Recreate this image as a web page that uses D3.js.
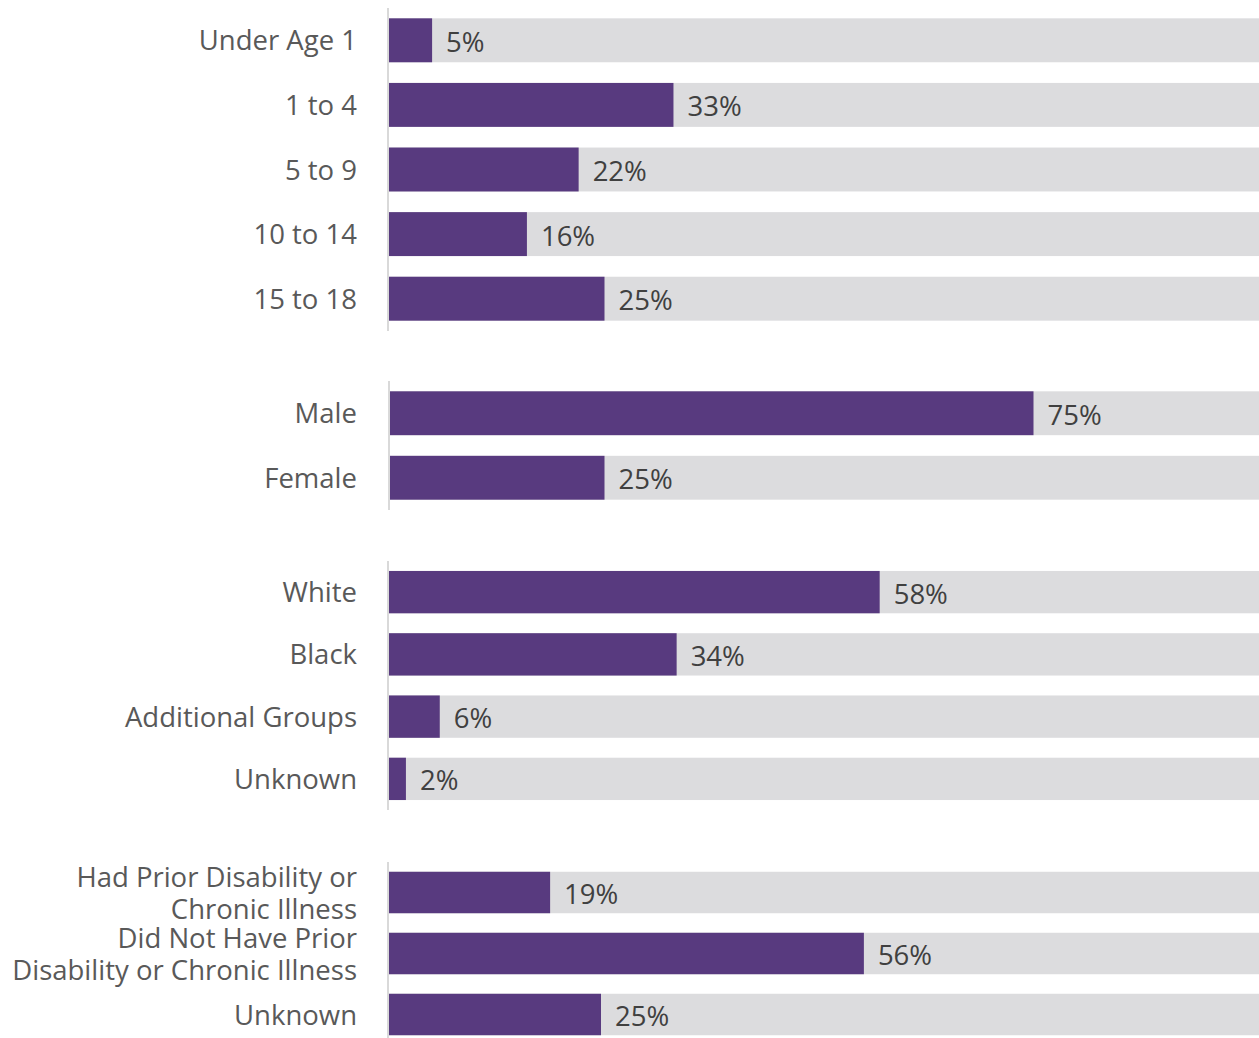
<!DOCTYPE html>
<html>
<head>
<meta charset="utf-8">
<script src="https://cdn.jsdelivr.net/npm/d3@7"></script>
<style>
  html, body { margin: 0; padding: 0; background: #fff; }
  svg { display: block; }
  text { font-family: "Open Sans", Lato, sans-serif; }
</style>
</head>
<body>
<svg id="chart" width="1259" height="1038"></svg>
<script>
// Age group
const ageCategories = ["Under Age 1", "1 to 4", "5 to 9", "10 to 14", "15 to 18"];
const ageValues = [5, 33, 22, 16, 25];

// Sex
const sexCategories = ["Male", "Female"];
const sexValues = [75, 25];

// Race
const raceCategories = ["White", "Black", "Additional Groups", "Unknown"];
const raceValues = [58, 34, 6, 2];

// Prior disability or chronic illness
const disabilityCategories = [
  ["Had Prior Disability or", "Chronic Illness"],
  ["Did Not Have Prior", "Disability or Chronic Illness"],
  ["Unknown"]
];
const disabilityValues = [19, 56, 25];

const W = 1259, H = 1038;
const purple = "#583a7f";
const track = "#dcdcde";
const labelColor = "#595959";
const valueColor = "#404040";
const fontSize = 27.5;

const svg = d3.select("#chart");

// Each panel: its own band scale (rows) and linear scale (percent)
const panels = [
  { cats: ageCategories, vals: ageValues, y0: 8, y1: 331, x0: 389, w100: 862 },
  { cats: sexCategories, vals: sexValues, y0: 381, y1: 510, x0: 390, w100: 858 },
  { cats: raceCategories, vals: raceValues, y0: 561, y1: 810, x0: 389, w100: 846 },
  { cats: disabilityCategories, vals: disabilityValues, y0: 862, y1: 1045, x0: 389, w100: 848 }
];

panels.forEach((p, pi) => {
  const rows = p.cats.map((c, i) => ({ key: i, label: Array.isArray(c) ? c : [c], value: p.vals[i] }));
  const y = d3.scaleBand()
    .domain(rows.map(d => d.key))
    .range([p.y0, p.y1])
    .paddingInner(0.32)
    .paddingOuter(0.16);
  const x = d3.scaleLinear().domain([0, 100]).range([p.x0, p.x0 + p.w100]);

  const g = svg.append("g").attr("class", "panel panel-" + pi);

  // full-width track behind each bar
  g.selectAll("rect.track").data(rows).join("rect")
    .attr("class", "track")
    .attr("x", x(0))
    .attr("y", d => y(d.key))
    .attr("width", W - x(0))
    .attr("height", y.bandwidth())
    .attr("fill", track);

  g.selectAll("rect.bar").data(rows).join("rect")
    .attr("class", "bar")
    .attr("x", x(0))
    .attr("y", d => y(d.key))
    .attr("width", d => x(d.value) - x(0))
    .attr("height", y.bandwidth())
    .attr("fill", purple);

  // vertical baseline
  g.append("line")
    .attr("x1", x(0) - 1).attr("x2", x(0) - 1)
    .attr("y1", p.y0).attr("y2", p.y1)
    .attr("stroke", "#d9d9d9")
    .attr("stroke-width", 2);

  // value labels
  g.selectAll("text.value").data(rows).join("text")
    .attr("class", "value")
    .attr("x", d => x(d.value) + 14)
    .attr("y", d => y(d.key) + y.bandwidth() / 2 + 1)
    .attr("dominant-baseline", "central")
    .attr("font-size", fontSize)
    .attr("fill", valueColor)
    .text(d => d.value + "%");

  // category labels (may wrap to two lines)
  const lineH = 32;
  g.selectAll("text.cat").data(rows).join("text")
    .attr("class", "cat")
    .attr("x", 357)
    .attr("y", d => y(d.key) + y.bandwidth() / 2 - 1 - (d.label.length - 1) * lineH / 2)
    .attr("text-anchor", "end")
    .attr("dominant-baseline", "central")
    .attr("font-size", fontSize)
    .attr("fill", labelColor)
    .each(function(d) {
      const t = d3.select(this);
      d.label.forEach((line, i) => {
        t.append("tspan")
          .attr("x", 357)
          .attr("dy", i === 0 ? 0 : lineH)
          .text(line);
      });
    });
});
</script>
</body>
</html>
